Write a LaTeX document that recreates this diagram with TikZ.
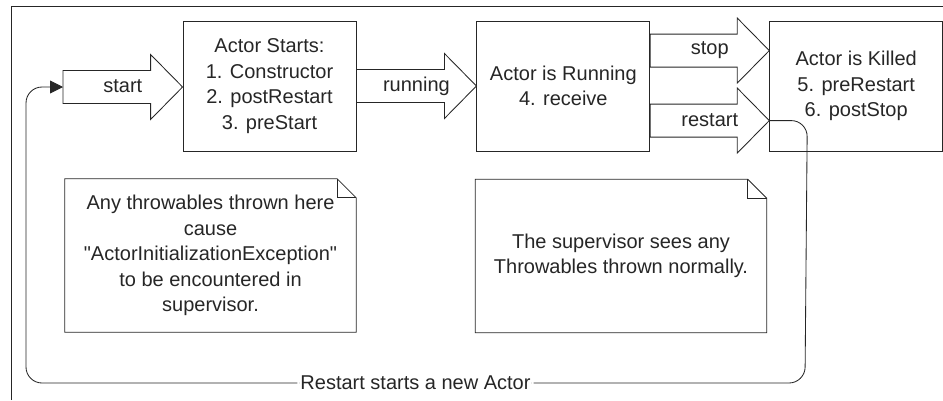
\documentclass[tikz,border=0pt]{standalone}
\usepackage{fontspec}
\setmainfont{Liberation Sans}[Ligatures=TeXOff]
\usetikzlibrary{arrows.meta}
\usetikzlibrary{positioning, calc}

\tikzset{
  ink/.style={draw=black!85, line width=0.85pt},
  txt/.style={text=black!85, font=\fontsize{20}{25.5}\selectfont, align=center},
  state/.style={ink, txt, minimum width=173pt, minimum height=130pt, inner sep=0pt},
  memo/.style={txt, minimum width=291pt, minimum height=153pt, inner sep=0pt},
  flow/.style={ink, fill=white, line join=miter},
  lbl/.style={txt, inner sep=1pt}
}

% block arrow from #1 to #2, label node #3 with text #4
\newcommand{\blockarrow}[4]{%
\draw[flow] let \p1=(#1), \p2=(#2) in
  (\x1,\y1+16.5pt) -- (\x2-32pt,\y1+16.5pt) -- (\x2-32pt,\y1+32.5pt) -- (\x2,\y1)
  -- (\x2-32pt,\y1-32.5pt) -- (\x2-32pt,\y1-16.5pt) -- (\x1,\y1-16.5pt) -- cycle;
\node[lbl] (#3) at ($(#1)!0.5!(#2)$) {#4};}

% note outline with folded corner
\newcommand{\dogear}[1]{%
\draw[ink, line join=miter] (#1.south west) -- (#1.north west) -- ([xshift=-19pt]#1.north east)
  -- ([yshift=-19pt]#1.north east) -- (#1.south east) -- cycle;
\draw[ink] ([xshift=-19pt]#1.north east) |- ([yshift=-19pt]#1.north east);}

\begin{document}
\begin{tikzpicture}[x=1pt,y=-1pt]
\useasboundingbox (0,0) rectangle (943,400);
\draw[ink] (11,400) |- (943,6);

% states
\node[state] (starts) at (269.5,86) {Actor Starts:\\1. Constructor\\2. postRestart\\3. preStart};
\node[state, right=120pt of starts] (running) {Actor is Running\\4. receive};
\node[state, right=119pt of running] (killed) {Actor is Killed\\5. preRestart\\6. postStop};

% transitions
\coordinate (entry) at (63,87);
\coordinate (stopfrom) at ([yshift=-30pt]running.north east);
\coordinate (stopto) at ([yshift=-30pt]killed.north west);
\coordinate (restartfrom) at ([yshift=-100pt]running.north east);
\coordinate (restartto) at ([yshift=-100pt]killed.north west);
\blockarrow{entry}{starts.west}{startlbl}{start}
\blockarrow{starts.east}{running.west}{runninglbl}{running}
\blockarrow{stopfrom}{stopto}{stoplbl}{stop}
\blockarrow{restartfrom}{restartto}{restartlbl}{restart}

% notes
\node[memo] (initnote) at (210.5,255.5) {Any throwables thrown here\\cause\\"ActorInitializationException"\\to be encountered in\\supervisor.};
\dogear{initnote}
\node[memo] (runnote) at (621,256) {The supervisor sees any\\Throwables thrown normally.};
\dogear{runnote}

% restart loop
\draw[ink, rounded corners=16pt, -{Triangle[length=13pt,width=13pt]}]
  (restartto) -- ++(38,0) -- (805,383)
  -- node[lbl, fill=white, inner xsep=3pt] (loop) {Restart starts a new Actor} (26,383)
  -- (26,87) -- (entry);
\end{tikzpicture}
\end{document}
